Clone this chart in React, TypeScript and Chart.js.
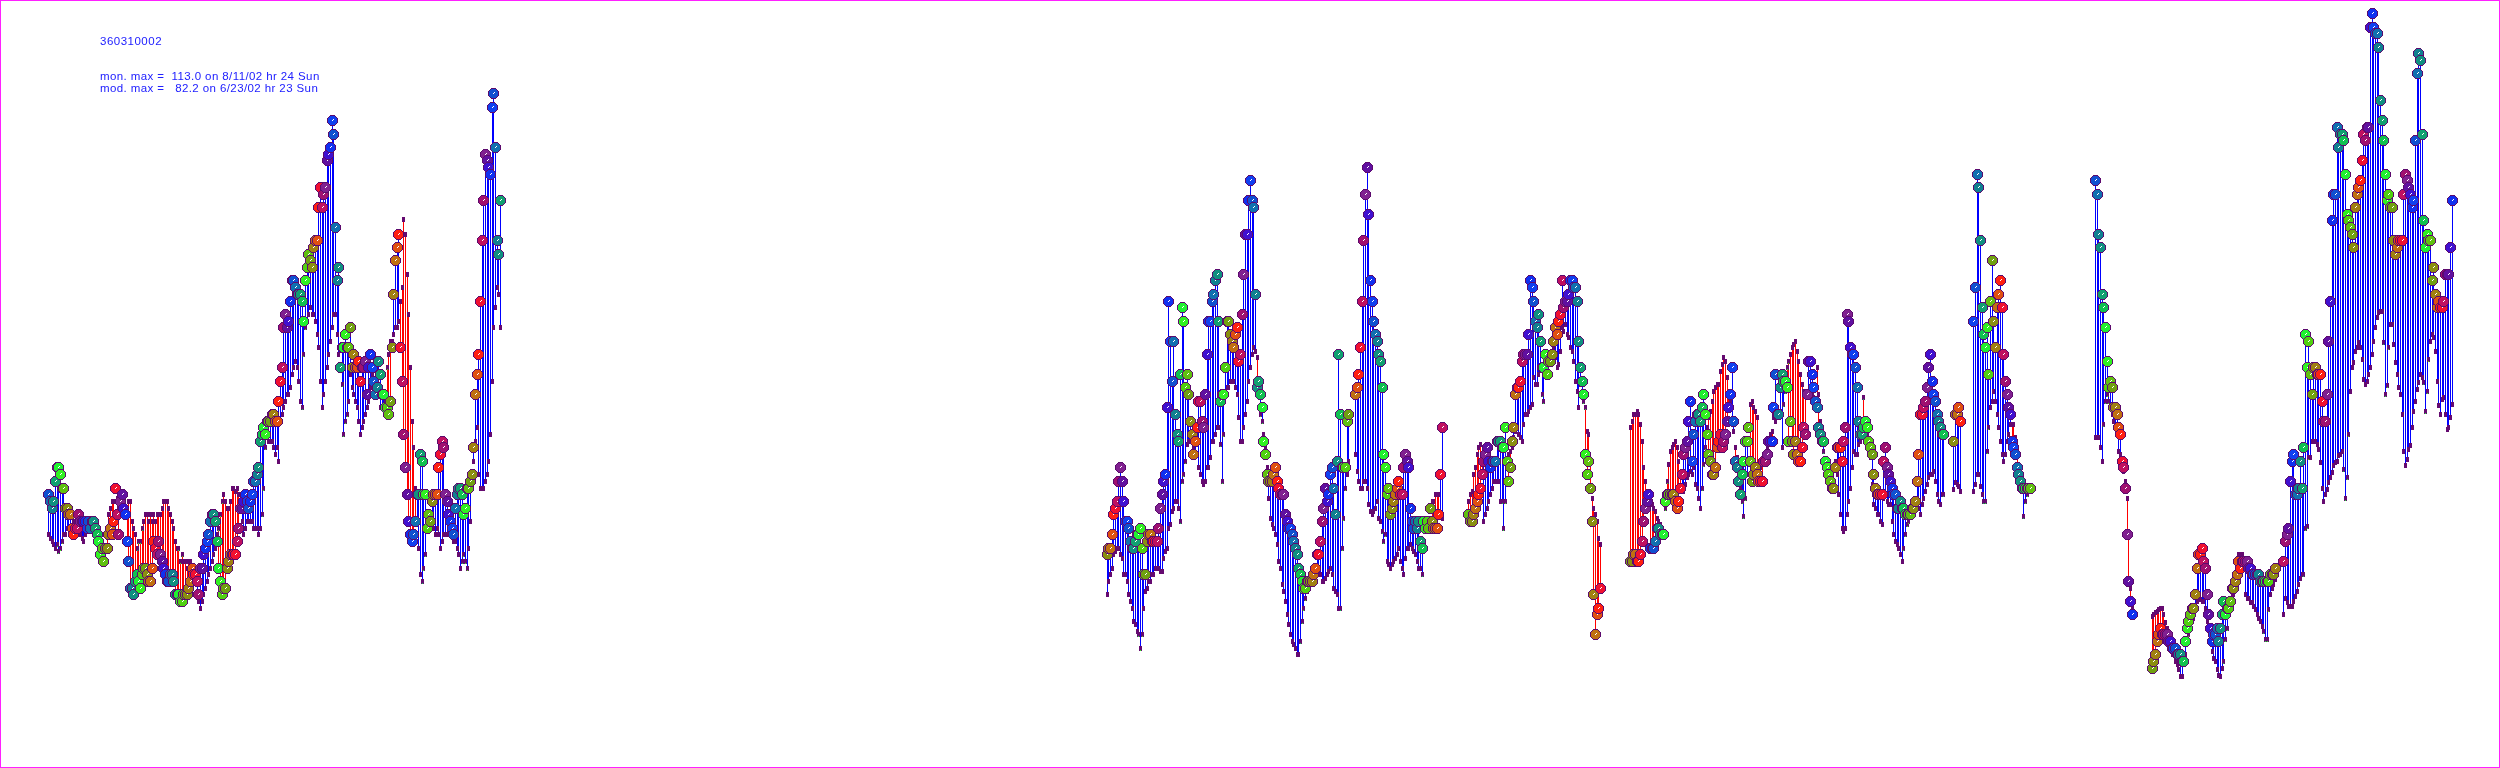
import React, { useEffect, useRef } from "react";
import { Chart, registerables, LinearScale } from "chart.js";

Chart.register(...registerables);

class SnapScale extends LinearScale {
  static id = "snap";
  getPixelForValue(v: any) {
    return Math.round(super.getPixelForValue(v)) + 0.5;
  }
}
Chart.register(SnapScale as any);

const n = null;
const stationId = "360310002";
const monLine = "mon. max =  113.0 on 8/11/02 hr 24 Sun";
const modLine = "mod. max =   82.2 on 6/23/02 hr 23 Sun";

const startA = 29;
const obsA = [
41,40,39,40,43,45,45,44,42,42,
39,39,38,38,36,35,36,36,38,37,
37,37,37,36,37,36,37,37,36,35,
34,32,33,31,33,33,35,36,35,37,
42,38,35,40,41,39,38,34,31,27,
27,26,28,29,28,27,29,30,30,29,
28,28,30,34,33,32,34,32,31,30,
29,28,28,29,29,28,26,26,26,25,
25,26,26,26,27,28,30,29,29,28,
26,30,30,32,33,34,35,37,38,38,
37,34,30,28,26,27,27,30,31,32,
32,32,32,34,36,39,39,40,41,40,
39,40,41,43,43,44,45,49,50,51,
50,52,52,52,53,53,52,52,55,58,
60,66,68,66,67,70,73,73,72,71,
71,71,70,67,73,75,77,76,75,78,
79,79,84,87,84,86,87,91,92,93,
97,95,81,73,75,60,63,63,65,63,
63,66,60,62,60,60,61,58,60,60,
61,56,60,62,60,58,56,57,61,59,
56,56,54,54,53,55,63,71,76,78,
80,63,58,50,45,41,37,35,34,35,
37,41,41,47,46,41,41,36,38,37,
40,41,41,41,45,47,49,48,41,40,
38,37,36,35,39,41,42,42,41,38,
39,42,42,43,44,48,56,59,62,70,
79,85,92,91,90,89,99,101,93,79,
77,85];
const modA = [
35,34.5,34,33.5,33,33.5,32.5,33,34,35,
35,36,36,35.5,36,37,36,36,35,35,
34.5,34,35,36,36,36,37,37,36,35,
34,33,33,33,33,36,38,39,40,40,
42,40.5,39,38,38,38,38,39,40,40,
37,36,35,33,34,34,36,37,38,38,
37,38,37,38,37,38,38,38,39,40,
40,40,39,38,37,36,34,33,33,31,
32,31,31,30,31,31,30,29,28,26,
25,24,25,26,27,28,29,30,31,32,
33,35,36,38,40,41,40,39,39,40,
42,42,41.5,42,41,39,37,35,36,37,
37,37,37,36,36,36,35,36,38,42,
48,50,49,49,49,48,47,48,46,52,
53,54,55,56,56,57,59,60,61,60,
58,55,54,62,66,67,68,69,68,68,
67,65,63,58,54,56,58,60,62,64,
66,68,68,65,62,60,57.5,50,52,53,
55,59,57,56,55,54,52,50,51,52,
53,54,55,57,59,58,57,56,56,54,
54,54,55,60,62,64,64,65,66,66,
67,70,72,82.2,80,74,68,60,52,48,
42,37,33,29,28,30,32,36,38,38,
37,36,35,36,35,33,34,35,35,35,
35,36,35,34,34,33,32,30,31,32,
31,30,33,37,42,46,49,51,44,42,
42,42,43,44,46,50,58,66,69,72,
71,66];

const startB = 664;
const obsB = [
32,33,33,35,38,39,40,43,45,43,
40,37,37,36,34,33,33,34,35,35,
36,33,29,29,34,35,35,34,34,34,
34,36,39,41,43,44,54,70,64,58,
64,53,50,49,59,69,67,57,59,56,
52,50,47,49,51,55,55,52,51,56,
62,67,67,70,71,73,74,67,55,56,
56,60,67,67,65,64,63,65,66,61,
62,68,74,80,80,85,88,85,84,71,
57,58,56,54,49,47,44,43,43,43,
44,45,43,42,41,41,41,38,37,36,
36,35,34,33,32,30,29,28,27,27,
28,28,28,28,29,30,32,32,34,37,
39,42,40,41,44,45,42,38,46,62,
53,45,45,45,52,53,n,n,n,
56,57,59,63,70,79,86,90,83,73,
70,67,65,64,62,61,57,47,45,41,
42,38,39,40,41,42,43,41,41,45,
47,46,45,39,37,36,37,36,37,34,
33,37,36,37,36,39,37,36,36,36,
38,44,51];
const modB = [
26,28,29,30,32,32.5,33,33,32,31.5,
29,29,28,26,25,24,22,21.5,20.5,20,
18,20,24,26.5,27,28,28,29,29,30,
30,30,29.5,29.5,31.5,32.5,33,36,36.5,38.5,
39,40,40,39,37,43,44,46,48.5,49,
49,49,48,47,49,45,44,43,42.5,43,
45,45,46.5,49,49,50,51,51,48.5,43,
50,56.5,57,57,58,58,58,57,56,52.5,
49,49,51,53,55,58,60,62,63,62.5,
61.5,57,53,52,50,48,45,40.5,37.5,36.5,
36,35,33.5,31,30,27.5,26.5,25,23,21.5,
20,19,18.5,18,17,17,19,22,24,25.5,
26.5,27,27.5,28,28.5,29,29.5,29,29,28,
28,28.5,29,29.5,30,29,27,26.5,26,24,
24,33,37.5,42,44,46,n,n,n,
47,44.5,43,42,42,43,43,42,39.5,38.5,
38,38.5,39,40,37.5,37,35.5,34,35,31,
30.5,30,30.5,31,31.5,32,33,31,30,29,
31.5,33,33,33.5,33,32.5,32,31,30,30,
29,36,36,37,37,39,40,40,41,41,
41,38,37.5];

const startC = 881;
const obsC = [
38,37,37,38,39,40,41,42,44,46,
47,48,46,45,46,46,46,49,49,49,
48,48,51,46,43,45,49,51,56,57,
57,58,61,62,62,62,65,73,72,70,
67,66,68,64,60,60,62,59,61,61,
62,64,66,65,67,68,73,69,70,70,
71,73,73,72,72,70,64,60,58,56,
47,44,46,42,37,26,20,23,24,27];
const modC = [
40,41,41.5,44,45,47,48,48.5,46,37,
38,39,40,41,42,43,43,43,43,40,
40,36,40,45.5,47,47.5,48,49.5,50.5,51,
50,49.5,49,51.5,53,53,53.5,54,54.5,58.5,
57.5,57.5,59,60,56,55,59,61,61,62,
63.5,63,61.5,60,60.5,62.5,66,65.5,66.5,65,
64.5,63,62.5,61,58,56.5,54,57.5,56,55,
54,50.5,50,46,40.5,39,38,37,34.5,33.5];

const startD = 978;
const obsD = [
31,31,32,32,31,31,32,34,37,39,
40,41,33,33,33,34,36,36,35,35,
35,40,41,41,41,41,41,40,39,40,
42,44,47,48,49,52,55,46,50,52,
53,53,52,54,56,53,50,47,46,44,
44,45,48,49,50,48,49,50,52,54,
56,60,52,46,45,43,41,44,46,49,
49,51,46,43,44,45,44,43,43,43,
46,46,47,49,49,49,54,59,53,53,
57,59,58,58,57,49,52,49,47,49,
47,46,46,48,51,50,56,61,61,59,
57,55,54,51,50,49,49,46,45,44,
43,42,42,45,48,48,48,46,49,51,
68,67,63,62,62,60,57,52,50,50,
51,52,51,49,48,47,44,42,41,41,
41,41,46,48,45,44,43,42,41,41,
39,39,40,39,39,38,38,38,38,39,
39,40,43,47,53,53,54,55,57,60,
62,58,56,55,53,52,51,50,50,n,
n,n,n,n,49,53,53,54,52,n,
n,n,n,n,n,n,67,72,89,87,
79,69,65,63,66,59,70,76,67,63,
69,71,73,69,62,58,56,54,53,49,
48,47,45,44,43,42,42,42,42,42,42];
const modD = [
51,52,53,53,53.5,53,51.5,49,45,43,
41.5,41,40,39.5,39,38.5,37.5,37,36.5,36,
35.5,39,43,45.5,47.5,48,48.5,49,48,46,
44,41.5,41.5,42.5,43.5,44,44.5,44,45,42.5,
42,40.5,39,42,45.5,48,51,52.5,53.5,55,
56.5,57,57.5,57.5,59.5,60.5,61.5,61,58.5,56,
55,52,50.5,48,46.5,45,42,40,37.8,40.5,
44,51,54.5,55,54,53.5,52.5,45.5,45,46,
46,46,48,49,50,50.5,52.5,52,53,53,
53.5,48,54.5,56.5,60,61,62,63,63.5,64,
62.5,61,59,57.5,56.5,56,56,56,56,56,
55.5,55,60,56,52,50,47.5,46,45,44,
44,44,45,46,44,41,38,36,35.5,36,
38,40,42,45,47.5,47,47,48.5,49,52,
55.5,52,50,48,46.5,42.5,39.5,39,38,38,
37,36.5,40.5,41,40,39.5,39.5,37,35,34,
33.5,33,32,31,33,35,36.5,37,39,39.5,
40,40,40.5,39,38,39.5,40.5,41.5,42.5,43.5,
44,44,44.5,43,41,40,39.5,41,41,n,
n,n,n,n,41.8,42.8,42.5,42.3,41.5,n,
n,n,n,n,n,n,41.5,42.5,44,44,
42.3,41,40,40,47.5,51,54,55,56.5,55,
53,51,49,47,46,47,49,50,51.5,51.5,
51.5,49.5,47,44,42.3,41.5,37.8,40,41,42,42];

const startE = 1257;
const obsE = [88,86,80,78,71,69,66,61,57,58,57,54,54,53,51,50,46,45,42,35,28,25,23];
const modE = [49.5,49.5,49.5,48,46,51.5,55,56,55,54,53,52,51,50.5,47.5,47,46,44.5,43,40.5,35,27,24];

const startF = 1291;
const obsF = [
15,16,17,19,20,21,20,20,20,20,
19,19,18,18,18,17,17,17,16,16,
19,21,22,23,24,24,26,30,32,32,
33,31,30,26,23,21,19,20,20,21,
19,21,23,25,23,24,24,25,27,27,
28,29,31,30,31,31,31,31,30,30,
29,29,29,29,29,28,28,28,28,28,
28,29,29,29,30,n,n,n,n,31,
34,35,36,43,46,47,41,41,42,46,
42,48,65,60,64,59,56,60,60,59,
59,59,55,52,52,56,64,70,82,86,
86,96,93,95,95,94,89,83,82,81,
80,78,84,86,87,88,91,95,94,96,
96,111,113,111,110,110,108,100,97,94,
89,85,86,84,84,79,77,78,79,79,
79,86,89,88,87,86,84,85,94,104,
107,106,95,82,78,80,79,79,73,75,
71,69,70,69,69,70,74,74,74,78,
85];
const modF = [
22.8,23,23.3,23.5,23.8,24,24,23,21.8,21,
19,18,17,17,16,15.5,14.8,13.8,13.8,16,
17,19,20,21,22,22.5,24,25,25.5,25.3,
25,25,24,22,21,19,17.5,16.5,16,14.8,
14,13.8,15,16,19.3,21,24,25,26,26,
27,29,32,32,32,31,26,25.5,25.5,24.8,
24.8,24.3,23.8,23,22.5,22,21.3,20.5,19.3,19.3,
23.8,26,27,27.5,28.3,n,n,n,n,23,
25.5,24.8,24.3,24.3,24.3,25,25.8,26.5,27.5,28.5,
29,29,36,36.3,46.5,46.5,49,49,49,48.5,
47.8,45.8,42,40,41,41.8,42.8,43.5,44.3,45.3,
45.8,46,46.8,47,47.5,44.8,40.5,43.5,50,56.5,
60,60.8,62.5,63,63.8,63,61.3,58.3,57.5,58,
59,60,62,64,66,67.5,68.3,68.5,68.5,63.8,
56,57.3,63,66.5,66.5,63.5,60.8,59,57,56,
53,47.5,45.3,46.3,47.8,48.3,51,53.5,55,56.8,
57.8,59,58.5,57.8,53.5,56.5,61.3,64,65,64.5,
62.5,58,54.3,53,55.3,55.5,53,50.8,51,52.5,
54.5];

// Colour wheel by hour of day, and the drift of that hour against the x index.
const hourColors = [
  "#802090","#6010a0","#4010d0","#1030f0","#1040f0","#1050d0","#1070b0","#108090",
  "#109080","#10a070","#10c050","#20f030","#30f020","#50d010","#60c010","#70a010",
  "#8a8f10","#a08010","#c07010","#e05010","#ff2010","#f01030","#c01060","#a01070",
];
const hourShifts: [number, number][] = [[0, 0], [150, -3], [664, 0], [700, -2], [810, -3], [1050, -4]];

const segments: [number, (number | null)[], (number | null)[]][] = [
  [startA, obsA, modA], [startB, obsB, modB], [startC, obsC, modC],
  [startD, obsD, modD], [startE, obsE, modE], [startF, obsF, modF],
];

function hourFor(i: number) {
  let shift = 0;
  for (const [from, s] of hourShifts) if (i >= from) shift = s;
  return (((i + shift) % 24) + 24) % 24;
}

// Hard-edged 11px disc with a dark rim and a white fleck, as in the reference raster.
function discSprite(color: string) {
  const c = document.createElement("canvas");
  c.width = 11; c.height = 11;
  const g = c.getContext("2d")!;
  for (let y = -5; y <= 5; y++) {
    for (let x = -5; x <= 5; x++) {
      const d = x * x + y * y;
      if (d > 29) continue;
      g.fillStyle = d >= 21 ? "#5c0a6e" : color;
      g.fillRect(x + 5, y + 5, 1, 1);
    }
  }
  g.fillStyle = "#ffffff";
  g.fillRect(5, 5, 1, 1);
  g.fillRect(6, 4, 1, 1);
  return c;
}

function tickSprite(tip: string) {
  const c = document.createElement("canvas");
  c.width = 3; c.height = 5;
  const g = c.getContext("2d")!;
  g.fillStyle = "#650a70";
  g.fillRect(0, 0, 3, 5);
  g.fillStyle = tip;
  g.fillRect(1, 4, 1, 1);
  return c;
}

export default function App() {
  const ref = useRef<HTMLCanvasElement>(null);
  useEffect(() => {
    const discs = hourColors.map(discSprite);
    const ticks = hourColors.map((col, h) => tickSprite(h >= 10 && h <= 13 ? col : "#650a70"));
    const obsPts: any[] = [], modPts: any[] = [], stems: any[] = [];
    const obsStyles: any[] = [], modStyles: any[] = [], stemCols: string[] = [];
    for (const [start, obs, mod] of segments) {
      obs.forEach((o, k) => {
        const m = mod[k];
        if (o == null || m == null) return;
        const i = start + k;
        const h = hourFor(i);
        obsPts.push({ x: i, y: o });
        modPts.push({ x: i, y: m });
        stems.push({ x: i, y: [Math.min(o, m), Math.max(o, m)] });
        obsStyles.push(discs[h]);
        modStyles.push(ticks[h]);
        stemCols.push(o >= m ? "#0000ff" : "#ff0000");
      });
    }

    const frame = {
      id: "frame",
      afterDraw(c: any) {
        const x = c.ctx;
        x.save();
        x.strokeStyle = "#ff20ff"; x.lineWidth = 1;
        x.strokeRect(0.5, 0.5, c.width - 1, c.height - 1);
        x.fillStyle = "#2020ff";
        x.font = '11.5px "Liberation Sans"';
        x.textBaseline = "alphabetic";
        x.letterSpacing = "0.5px";
        x.fillText(stationId, 100, 45);
        x.letterSpacing = "0.4px";
        x.fillText(monLine, 100, 80);
        x.fillText(modLine, 100, 92);
        x.restore();
      },
    };

    const chart = new Chart(ref.current!, {
      type: "bar",
      data: {
        datasets: [
          { type: "bar", data: stems, backgroundColor: stemCols, barThickness: 1, inflateAmount: 0, borderWidth: 0, order: 3, grouped: false, clip: false } as any,
          { type: "scatter", data: modPts, pointStyle: modStyles, pointRadius: 3, showLine: false, order: 2, clip: false } as any,
          { type: "scatter", data: obsPts, pointStyle: obsStyles, pointRadius: 5, showLine: false, order: 1, clip: false } as any,
        ],
      },
      options: {
        responsive: false,
        animation: false,
        layout: { padding: 0, autoPadding: false },
        plugins: { legend: { display: false }, tooltip: { enabled: false }, title: { display: false } },
        scales: {
          x: { type: "snap", min: 0, max: 1500, display: false, offset: false } as any,
          y: { type: "snap", min: 0, max: 115, display: false } as any,
        },
      },
      plugins: [frame],
    });
    return () => chart.destroy();
  }, []);
  return (
    <div style={{ position: "absolute", left: 0, top: 0, width: 2500, height: 768, background: "#fff" }}>
      <canvas ref={ref} width={2500} height={768} style={{ display: "block" }} />
    </div>
  );
}
